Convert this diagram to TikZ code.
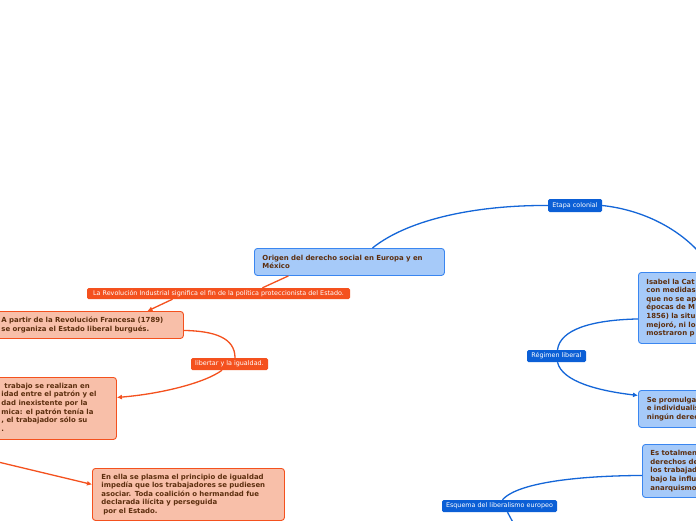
\documentclass[tikz,border=0pt]{standalone}
\usepackage{fontspec}
\setmainfont{DejaVu Sans}
\usetikzlibrary{arrows.meta,calc}
\definecolor{bline}{HTML}{1466D8}
\definecolor{blab}{HTML}{0B5FD6}
\definecolor{bfill}{HTML}{A6CAF9}
\definecolor{bdraw}{HTML}{3A86F0}
\definecolor{oline}{HTML}{F4511E}
\definecolor{ofill}{HTML}{F8BFA9}
\definecolor{tbrown}{HTML}{5C2E0E}
\tikzset{
  bl/.style={draw=bline,line width=1.3pt},
  ol/.style={draw=oline,line width=1.3pt},
  tip/.style={-{Latex[length=5pt,width=5pt]}},
  boxtext/.style={font=\fontsize{6.95}{8.6}\selectfont\bfseries,text=tbrown,align=left,rounded corners=3pt,line width=0.9pt,anchor=north west,inner ysep=0pt},
  bbox/.style={boxtext,fill=bfill,draw=bdraw},
  obox/.style={boxtext,fill=ofill,draw=oline},
  lab/.style={font=\fontsize{6.4}{7}\selectfont,text=white,rounded corners=1.5pt,inner sep=0pt},
  blabel/.style={lab,fill=blab},
  olabel/.style={lab,fill=oline},
}
\begin{document}
\begin{tikzpicture}[x=1pt,y=-1pt]
\useasboundingbox (0,0) rectangle (696,520);
\clip (0,0) rectangle (696,520);
\fill[white] (0,0) rectangle (696,520);

% blue side
\node[bbox,minimum width=190pt,minimum height=27pt,text width=174pt,inner xsep=8pt] (main) at (254,248)
  {Origen del derecho social en Europa y en\\México};
\node[blabel,minimum width=54pt,minimum height=13pt] (etapa) at (575,205.5) {Etapa colonial};
\node[bbox,minimum width=120pt,minimum height=71pt,text width=104pt,inner xsep=8pt] (isabel) at (638,272)
  {Isabel la Cat\\con medidas\\que no se ap\\épocas de M\\1856) la situ\\mejoró, ni lo\\mostraron p};
\node[blabel,minimum width=59pt,minimum height=12pt] (regimen) at (556.5,356) {Régimen liberal};
\node[bbox,minimum width=120pt,minimum height=37pt,text width=103pt,inner xsep=8.5pt] (promulga) at (638,390)
  {Se promulga\\e individualis\\ningún derec};
\node[bbox,minimum width=120pt,minimum height=53pt,text width=104pt,inner xsep=8pt] (estot) at (642,444)
  {Es totalmen\\derechos de\\los trabajad\\bajo la influ\\anarquismo};
\node[blabel,minimum width=115pt,minimum height=12pt] (esquema) at (499.5,506) {Esquema del liberalismo europeo};
\coordinate (offR) at (714,272);
\coordinate (offB) at (517,530);

\draw[bl] ([xshift=23pt]main.north) .. controls (410,218) and (480,205) .. (etapa.west);
\draw[bl] (etapa.east) .. controls (645,210) and (690,232) .. (offR);
\draw[bl] ($(regimen.north)+(1,0)$) .. controls (560,330) and (590,320) .. ($(isabel.west)+(0,11)$);
\draw[bl,tip] ($(regimen.south)+(1,0)$) .. controls (562,382) and (600,391) .. ($(promulga.west)+(0,-13.5)$);
\draw[bl] ($(esquema.north)+(3,0)$) .. controls (514,486) and (560,476) .. ($(estot.west)+(0,4.5)$);
\draw[bl] ($(esquema.south)+(8,0)$) -- (offB);

% orange side
\node[olabel,minimum width=263pt,minimum height=11pt] (rev) at (218.5,293.5)
  {La Revolución Industrial significa el fin de la política proteccionista del Estado.};
\node[obox,minimum width=195pt,minimum height=27pt,text width=169pt,inner xsep=13pt] (boxA) at (-12,311)
  {A partir de la Revolución Francesa (1789)\\se organiza el Estado liberal burgués.};
\node[olabel,minimum width=77pt,minimum height=12pt] (liber) at (229.5,364) {libertar y la igualdad.};
\node[obox,minimum width=176pt,minimum height=62pt] (boxB) at (-60,377) {};
\node[boxtext,draw=none,fill=none,inner xsep=0pt] (btext) at (1,382.5)
  {\hspace{3pt}trabajo se realizan en\\idad entre el patrón y el\\dad inexistente por la\\mica: el patrón tenía la\\, el trabajador sólo su\\.};
\node[obox,minimum width=192pt,minimum height=52pt,text width=174pt,inner xsep=9pt] (boxC) at (92,468)
  {En ella se plasma el principio de igualdad\\impedía que los trabajadores se pudiesen\\asociar. Toda coalición o hermandad fue\\declarada ilícita y perseguida\\\hspace{2pt}por el Estado.};
\coordinate (offL) at (-6,461);

\draw[ol] ([xshift=-61pt]main.south) -- ($(rev.north)+(44,0)$);
\draw[ol,tip] ($(rev.south)+(-46,0)$) -- ($(boxA.north)+(61.5,0)$);
\draw[ol] ($(boxA.east)+(0,5.5)$) .. controls (215,331) and (235,338) .. ($(liber.north)+(5.5,0)$);
\draw[ol,tip] ($(liber.south)+(-7.5,0)$) .. controls (205,383) and (160,394) .. ($(boxB.east)+(0,-11)$);
\draw[ol,tip] (offL) -- ($(boxC.west)+(0,-10)$);
\end{tikzpicture}
\end{document}
